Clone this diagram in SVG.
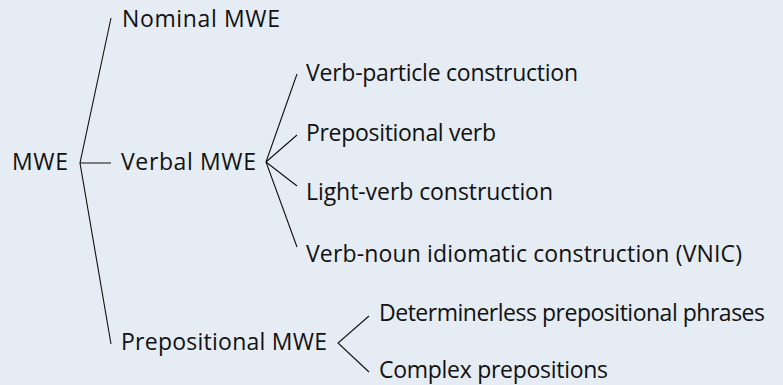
<svg xmlns="http://www.w3.org/2000/svg" width="783" height="385" viewBox="0 0 783 385">
<style>
.t{font-family:"Open Sans","Liberation Sans",sans-serif;font-size:23px;fill:#111}
.e{stroke:#111;stroke-width:1.1;fill:none}
</style>
<rect width="783" height="385" fill="#e5ecf3"/>
<g id="connectors">
<path class="e" d="M111,18 L80,163 L111,344 M80,163 H111"/>
<path class="e" d="M297,74 L266,162 L297,247 M266,162 L297,135 M266,162 L297,186"/>
<path class="e" d="M369,316 L338,343 L369,372"/>
</g>
<g id="n-mwe"><text class="t" x="12" y="170" textLength="56">MWE</text></g>
<g id="n-nominal"><text class="t" x="122" y="27" textLength="158">Nominal MWE</text></g>
<g id="n-verbal"><text class="t" x="121" y="170" textLength="135">Verbal MWE</text></g>
<g id="n-prep"><text class="t" x="121" y="350" textLength="206">Prepositional MWE</text></g>
<g id="n-vpc"><text class="t" x="306" y="81" textLength="272">Verb-particle construction</text></g>
<g id="n-pv"><text class="t" x="306" y="141" textLength="190">Prepositional verb</text></g>
<g id="n-lvc"><text class="t" x="306" y="200" textLength="247">Light-verb construction</text></g>
<g id="n-vnic"><text class="t" x="306" y="262" textLength="436">Verb-noun idiomatic construction (VNIC)</text></g>
<g id="n-det"><text class="t" x="379" y="321" textLength="386">Determinerless prepositional phrases</text></g>
<g id="n-cp"><text class="t" x="379" y="378" textLength="229">Complex prepositions</text></g>
</svg>
